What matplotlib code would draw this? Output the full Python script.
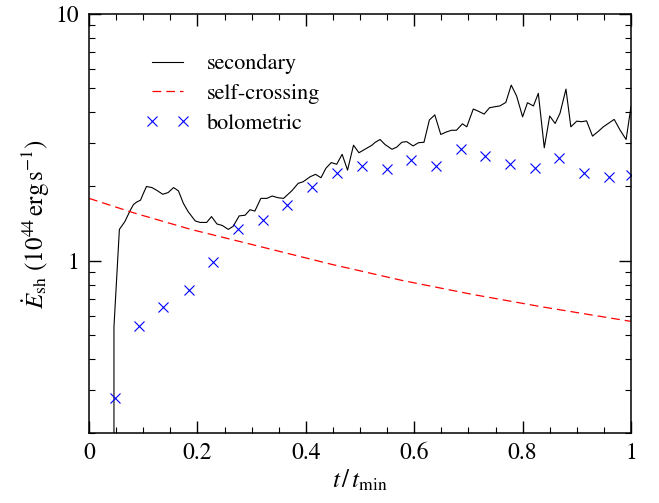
import matplotlib
matplotlib.use("Agg")
import matplotlib.pyplot as plt
from matplotlib.ticker import MultipleLocator, LogLocator, FixedLocator, FuncFormatter, NullFormatter
from matplotlib.legend_handler import HandlerLine2D

plt.rcParams['font.family'] = 'STIXGeneral'
plt.rcParams['mathtext.fontset'] = 'stix'

# secondary shock luminosity (black line)
t_sec = [0.046, 0.046, 0.056, 0.066, 0.076, 0.082, 0.088, 0.095, 0.100, 0.106,
         0.116, 0.125, 0.136, 0.146, 0.156, 0.165, 0.174, 0.183, 0.196, 0.205,
         0.217, 0.226, 0.236, 0.246, 0.257, 0.266, 0.277, 0.288, 0.297, 0.306,
         0.317, 0.328, 0.338, 0.349, 0.359, 0.374, 0.386, 0.395, 0.408, 0.418,
         0.428, 0.437, 0.447, 0.457, 0.467, 0.477, 0.488, 0.498, 0.509, 0.522,
         0.528, 0.537, 0.546, 0.559, 0.568, 0.577, 0.586, 0.598, 0.608, 0.618,
         0.628, 0.638, 0.649, 0.660, 0.669, 0.678, 0.689, 0.697, 0.709, 0.718,
         0.729, 0.739, 0.749, 0.758, 0.769, 0.779, 0.789, 0.800, 0.809, 0.820,
         0.829, 0.840, 0.850, 0.860, 0.869, 0.880, 0.889, 0.900, 0.909, 0.918,
         0.929, 0.940, 0.949, 0.958, 0.969, 0.980, 0.991, 1.000]
e_sec = [0.10, 0.54, 1.34, 1.44, 1.60, 1.69, 1.73, 1.76, 1.87, 2.00,
         1.98, 1.93, 1.86, 1.89, 1.98, 1.92, 1.71, 1.58, 1.45, 1.43,
         1.43, 1.51, 1.41, 1.39, 1.34, 1.38, 1.52, 1.53, 1.61, 1.59,
         1.79, 1.79, 1.83, 1.80, 1.79, 1.92, 2.06, 2.09, 2.19, 2.24,
         2.17, 2.37, 2.50, 2.46, 2.70, 2.33, 2.94, 2.74, 2.83, 2.94,
         3.02, 3.10, 2.96, 2.83, 2.89, 3.02, 3.04, 2.92, 3.01, 3.02,
         3.72, 3.90, 3.25, 3.33, 3.38, 3.38, 3.59, 3.49, 4.12, 4.04,
         3.93, 4.17, 4.21, 4.24, 4.38, 5.15, 4.65, 3.83, 4.37, 4.24,
         4.77, 2.87, 3.86, 3.60, 3.96, 4.96, 3.49, 3.68, 3.66, 3.69,
         3.20, 3.35, 3.49, 3.60, 3.74, 3.38, 3.10, 4.21]

# self-crossing (red dashed)
t_sc = [0.0, 0.084, 0.188, 0.317, 0.447, 0.577, 0.707, 0.837, 1.0]
e_sc = [1.79, 1.56, 1.34, 1.14, 0.968, 0.833, 0.731, 0.650, 0.568]

# bolometric (blue crosses)
t_bol = [0.047, 0.093, 0.137, 0.184, 0.229, 0.274, 0.321, 0.366, 0.411, 0.457,
         0.503, 0.549, 0.594, 0.640, 0.686, 0.731, 0.777, 0.823, 0.868, 0.914,
         0.960, 1.0]
e_bol = [0.278, 0.542, 0.650, 0.764, 0.993, 1.346, 1.464, 1.690, 1.987, 2.26,
         2.41, 2.36, 2.56, 2.42, 2.83, 2.66, 2.46, 2.37, 2.61, 2.27,
         2.18, 2.22]

fig = plt.figure(figsize=(6.59, 5.03), dpi=100)
ax = fig.add_axes([0.1351, 0.1386, 0.8224, 0.8336])

ax.plot(t_sec, e_sec, color='black', lw=0.8, label='secondary')
ax.plot(t_sc, e_sc, color='red', lw=0.9, dashes=(7, 4), label='self-crossing')
bol, = ax.plot(t_bol, e_bol, ls='none', marker='x', color='blue', ms=6.5, mew=0.8,
               label='bolometric')

ax.set_yscale('log')
ax.set_xlim(0, 1)
ax.set_ylim(0.2, 10)

ax.xaxis.set_major_locator(MultipleLocator(0.2))
ax.xaxis.set_minor_locator(MultipleLocator(0.05))
ax.xaxis.set_major_formatter(FuncFormatter(lambda v, p: '%g' % round(v, 2)))
ax.yaxis.set_major_locator(FixedLocator([1, 10]))
ax.yaxis.set_major_formatter(FuncFormatter(lambda v, p: '%g' % v))
ax.yaxis.set_minor_locator(LogLocator(base=10, subs=range(2, 10)))
ax.yaxis.set_minor_formatter(NullFormatter())

ax.tick_params(which='both', direction='in', top=True, right=True, labelsize=17)
ax.tick_params(which='major', length=8.5, width=1.0, pad=7)
ax.tick_params(which='minor', length=4.5, width=0.8)
for s in ax.spines.values():
    s.set_linewidth(1.1)

ax.set_xlabel(r'$t\,/\,t_{\rm min}$', fontsize=18, labelpad=3)
ax.set_ylabel(r'$\dot{E}_{\rm sh}\ (10^{44}\,{\rm erg\,s^{-1}})$', fontsize=18, labelpad=3)

ax.legend(loc='upper left', bbox_to_anchor=(0.116, 0.905), frameon=False,
          borderpad=0, borderaxespad=0, fontsize=16, handlelength=1.4,
          handletextpad=1.08, labelspacing=0.42,
          handler_map={bol: HandlerLine2D(marker_pad=0, numpoints=2)})

fig.savefig('out.png', dpi=100)
